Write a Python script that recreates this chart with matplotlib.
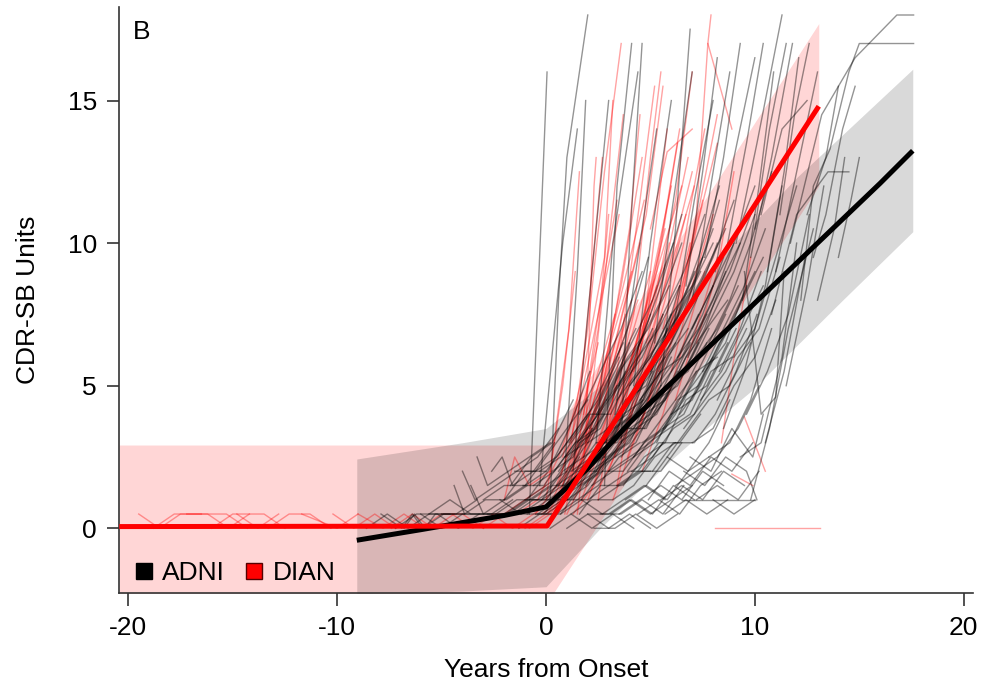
import numpy as np
import matplotlib.pyplot as plt
from matplotlib.lines import Line2D

plt.rcParams['font.family'] = ['Liberation Sans', 'DejaVu Sans']
plt.rcParams['font.size'] = 19
plt.rcParams['axes.unicode_minus'] = False

# fitted curves
adni_fit_x = [-9.06, -6.0, -4.0, -2.0, 0.0, 2.0, 4.0, 6.0, 8.0, 10.0, 12.0, 14.0, 16.0, 17.56]
adni_fit_y = [-0.42, -0.05, 0.2, 0.45, 0.75, 2.1, 3.7, 5.1, 6.5, 7.9, 9.3, 10.7, 12.1, 13.24]
dian_fit_x = [-20.43, 0.05, 13.06]
dian_fit_y = [0.06, 0.08, 14.8]

# confidence bands
adni_band_x = [-9.06, -4.0, 0.0, 2.6, 4.0, 6.0, 8.0, 9.8, 12.0, 14.2, 17.56]
adni_band_hi = [2.43, 3.0, 3.5, 5.0, 6.1, 7.6, 9.2, 10.6, 12.3, 13.8, 16.1]
adni_band_lo = [-2.3, -2.2, -2.05, 0.0, 1.0, 2.4, 3.7, 4.8, 6.4, 8.0, 10.4]
dian_band_x = [-20.43, 0.0, 0.35, 13.06]
dian_band_hi = [2.92, 2.92, 3.3, 17.7]
dian_band_lo = [-2.6, -2.6, -2.28, 12.0]

# individual trajectories, "years:score" pairs
adni_subjects = [
    "-8.6:0 -7.6:0.5 -6.6:0 -5.6:0.5 -4.6:0.5",
    "-7.9:0.5 -6.9:0 -6.4:0.5 -5.9:0 -4.9:0.5 -3.9:0.5",
    "-7.2:0 -6.2:0.5 -5.2:0.5 -4.2:0 -3.2:0.5",
    "-6.8:0 -6.3:0.5 -5.8:0 -5.3:0.5 -4.3:0.5 -3.3:1.0",
    "-6.0:0.5 -5.0:0 -4.0:0.5 -3.0:0.5 -2.0:0.5",
    "-5.6:0.5 -4.6:1.0 -3.6:0.5 -2.6:0.5 -1.6:1.0",
    "-5.0:0.5 -4.0:0.5 -3.0:0.5 -2.0:1.0 -1.0:1.5 0.0:2.0",
    "-4.4:1.5 -3.9:0.5 -2.9:1.0 -1.9:1.0 -0.9:1.5",
    "-4.0:2.0 -3.4:1.0 -2.4:1.5 -1.4:2.0 -0.4:2.5 0.6:3.5",
    "-3.6:1.5 -3.0:0.5 -2.0:0.5 -1.0:1.0 0.0:1.0 1.0:2.0",
    "-3.3:2.5 -2.8:1.5 -1.8:2.0 -0.8:2.5 0.2:3.0",
    "-3.0:1.0 -2.0:1.5 -1.0:1.5 0.0:2.5 1.0:3.5 2.0:4.5",
    "-2.8:0.5 -1.8:0.5 -0.8:1.0 0.2:1.5 1.2:2.5 2.2:3.5",
    "-2.6:2.0 -2.1:2.5 -1.6:1.5 -0.6:2.0 0.4:3.0",
    "-2.4:0.5 -1.4:1.0 -0.4:1.0 0.6:1.5 1.6:2.5",
    "-2.2:1.0 -1.2:0.5 -0.2:1.0 0.8:1.5 1.8:3.0 2.8:4.0",
    "-2.0:1.0 -1.0:2.0 0.0:2.0 1.0:3.0 2.0:4.0",
    "-1.9:0.5 -0.9:1.0 0.1:2.0 1.1:3.5 2.1:5.5",
    "-1.7:1.5 -0.7:2.5 0.3:3.0 1.3:4.5",
    "-1.6:0.5 -0.6:1.0 0.4:1.0 1.4:2.0 2.4:2.5 3.4:4.0",
    "-1.5:2.0 -0.5:2.0 0.5:2.5 1.5:3.5 2.5:4.5 3.5:6.0",
    "-1.3:0 -0.3:0.5 0.7:0.5 1.7:1.5 2.7:2.0",
    "-1.2:0.5 -0.2:0.5 0.8:1.0 1.8:2.0 2.8:2.5",
    "-1.1:1.5 -0.1:1.5 0.9:2.5 1.9:3.0 2.9:4.5",
    "-1.0:1.0 0.0:1.5 1.0:2.0 2.0:3.0 3.0:4.5 4.0:6.5",
    "-0.9:0.5 0.1:1.0 1.1:1.0 2.1:2.0 3.1:2.5 4.1:3.5",
    "-0.8:0.5 0.05:16.0",
    "-0.7:1.0 0.3:1.5 1.3:1.5 2.3:2.5 3.3:3.5 4.3:5.0",
    "-0.6:1.5 0.4:2.0 1.4:3.0 2.4:3.5 3.4:5.0",
    "-0.5:0.5 0.5:0.5 1.5:1.0 2.5:1.5 3.5:2.5 4.5:3.0",
    "-0.4:0.5 0.6:1.0 1.6:1.5 2.6:2.0 3.6:3.0 4.6:4.5",
    "-0.3:2.0 0.7:2.5 1.7:3.5 2.7:5.0 3.7:6.5",
    "-0.2:1.0 0.8:2.0 1.8:2.5 2.8:4.0 3.8:5.5",
    "-0.1:0.5 0.9:1.5 1.9:2.0 2.9:3.5 3.9:4.0 4.9:5.5",
    "0.0:0.5 1.0:1.0 2.0:1.0 3.0:1.5 4.0:2.0 5.0:2.0",
    "0.1:1.0 1.1:1.5 2.1:2.5 3.1:3.0 4.1:4.5 5.1:5.5",
    "0.2:1.0 0.6:8.0 1.0:13.0 2.0:18.0",
    "0.2:0 1.2:0.5 2.2:0 3.2:0.5 4.2:0",
    "0.3:2.0 1.3:2.5 2.3:4.0 3.3:5.5 4.3:7.0",
    "0.4:0.5 1.4:1.5 2.4:2.0 3.4:3.5 4.4:5.0",
    "0.5:1.5 1.5:2.0 2.5:2.0 3.5:3.0 4.5:3.5 5.5:5.0",
    "0.6:2.0 1.6:3.0 2.6:3.5 3.6:5.0 4.6:6.0 5.6:7.5",
    "0.7:0.5 1.7:1.0 2.7:0.5 3.7:1.0 4.7:1.5 5.7:1.0",
    "0.8:1.5 1.8:2.0 2.8:3.0 3.8:3.5 4.8:4.5 5.8:6.0 6.8:7.0",
    "0.9:2.5 1.9:3.5 2.9:5.0 3.9:7.0 4.9:9.5",
    "0.9:2.0 1.5:9.0 1.9:15.0",
    "1.0:1.0 2.0:1.5 3.0:2.5 4.0:3.0 5.0:4.5 6.0:6.0",
    "1.0:2.5 2.0:3.5 3.0:4.5 4.0:5.5 5.0:7.5",
    "1.0:0 2.0:0.5 3.0:0 4.0:0.5 5.0:0",
    "1.1:3.0 2.1:4.0 3.1:4.0 4.1:5.5 5.1:7.0",
    "1.2:0.5 2.2:1.0 3.2:1.0 4.2:1.5 5.2:2.5 6.2:3.0",
    "1.2:2.0 2.2:2.5 3.2:3.5 4.2:4.0 5.2:5.5 6.2:6.5",
    "1.3:1.0 2.3:2.0 3.3:2.5 4.3:3.5 5.3:4.0 6.3:5.5",
    "1.4:2.0 2.4:3.0 3.4:3.0 4.4:4.0 5.4:6.0 6.4:8.5",
    "1.5:1.5 2.5:2.5 3.5:3.5 4.5:4.5 5.5:5.5",
    "1.5:3.0 2.5:4.0 3.5:5.5 4.5:6.5 5.5:8.0 6.5:10.0",
    "1.6:4.0 2.6:5.5 3.6:7.0 4.6:9.0",
    "1.6:0.5 2.6:1.5 3.6:1.5 4.6:2.0 5.6:3.0",
    "1.7:1.0 2.7:2.0 3.7:2.0 4.7:3.0 5.7:3.5 6.7:5.0 7.7:6.5",
    "1.7:2.0 2.7:2.5 3.7:4.0 4.7:4.5 5.7:6.0",
    "1.8:2.5 2.8:3.0 3.8:4.5 4.8:5.0 5.8:7.0",
    "1.9:1.5 2.9:2.5 3.9:3.0 4.9:4.0 5.9:5.0 6.9:6.5",
    "2.0:0.5 3.0:0.5 4.0:1.0 5.0:0.5 6.0:1.0 7.0:1.5",
    "2.0:3.0 3.0:3.5 4.0:5.0 5.0:6.0 6.0:7.5",
    "2.1:3.5 3.1:5.0 4.1:6.5 5.1:8.0 6.1:10.0",
    "2.1:2.5 3.1:3.0 4.1:4.0 5.1:6.0 6.1:7.0 7.1:9.0",
    "2.2:1.5 3.2:2.0 4.2:2.5 5.2:3.5 6.2:4.5 7.2:5.5",
    "2.3:2.0 3.3:3.5 4.3:4.0 5.3:5.0 6.3:6.0 7.3:7.5",
    "2.3:0 3.3:0 4.3:0.5 5.3:0 6.3:0.5",
    "2.4:4.0 3.4:5.0 4.4:6.0 5.4:7.0 6.4:8.5",
    "2.5:1.0 3.5:1.5 4.5:2.0 5.5:2.0 6.5:3.0",
    "2.6:3.0 3.6:4.0 4.6:5.5 5.6:7.5 6.6:9.0 7.6:11.0",
    "2.6:0.5 3.6:0.5 4.6:1.0 5.6:0.5 6.6:1.5",
    "2.7:2.0 3.7:3.0 4.7:4.0 5.7:4.5 6.7:6.0 7.7:7.5",
    "2.8:1.5 3.4:12.0 4.1:17.0",
    "2.8:2.5 3.8:3.5 4.8:3.5 5.8:5.0 6.8:5.5 7.8:7.0",
    "2.9:4.5 3.9:6.0 4.9:7.0 5.9:8.5",
    "3.0:2.0 4.0:2.5 5.0:3.0 6.0:4.0 7.0:4.5 8.0:6.0",
    "3.0:3.5 4.0:4.5 5.0:5.5 6.0:7.0 7.0:8.5 8.0:10.5",
    "3.1:0.5 4.1:1.0 5.1:0.5 6.1:1.5 7.1:1.0",
    "3.2:3.0 4.2:3.5 5.2:5.0 6.2:6.5 7.2:8.0 8.2:10.0",
    "3.3:2.5 4.3:3.0 5.3:4.5 6.3:5.0 7.3:6.5",
    "3.4:1.5 4.4:2.0 5.4:3.0 6.4:3.0 7.4:4.0",
    "3.4:4.5 4.4:5.5 5.4:6.5 6.4:7.5 7.4:9.0",
    "3.5:5.0 4.5:6.5 5.5:8.5 6.5:11.0",
    "3.5:4.0 4.5:5.0 5.5:6.5 6.5:8.0 7.5:9.5",
    "3.5:0.5 4.5:1.0 5.5:1.5 6.5:1.0 7.5:2.0 8.5:1.5",
    "3.6:2.5 4.6:3.5 5.6:4.5 6.6:5.5 7.6:7.0 8.6:9.0",
    "3.6:3.0 4.0:10.0 4.6:17.0",
    "3.7:1.5 4.7:2.5 5.7:3.0 6.7:4.5 7.7:5.0 8.7:6.5",
    "3.8:1.0 4.8:1.5 5.8:1.0 6.8:2.0 7.8:2.5",
    "3.9:2.0 4.9:3.0 5.9:3.5 6.9:4.0 7.9:5.5 8.9:6.0",
    "4.0:3.5 5.0:4.0 6.0:5.5 7.0:7.0 8.0:8.5",
    "4.0:5.0 5.0:6.0 6.0:7.5 7.0:8.5 8.0:10.0",
    "4.1:2.0 5.1:2.5 6.1:3.5 7.1:4.0 8.1:5.5 9.1:7.0",
    "4.2:2.5 5.2:3.0 6.2:4.0 7.2:5.5 8.2:6.0",
    "4.3:4.0 5.3:5.5 6.3:7.0 7.3:9.0 8.3:11.5",
    "4.4:0.5 5.4:1.0 6.4:0.5 7.4:1.5 8.4:2.0",
    "4.5:4.5 5.5:5.5 6.5:6.0 7.5:7.5 8.5:9.5",
    "4.6:3.0 5.6:3.5 6.6:4.5 7.6:6.0 8.6:7.5",
    "4.7:3.5 5.7:4.5 6.7:6.0 7.7:7.0 8.7:8.0",
    "4.8:1.5 5.8:2.5 6.8:2.0 7.8:3.0 8.8:4.5",
    "4.9:1.0 5.9:2.0 6.9:1.5 7.9:2.5 8.9:2.0 9.9:3.0",
    "5.0:4.5 6.0:5.5 7.0:6.5 8.0:8.0 9.0:10.0",
    "5.0:5.5 6.0:6.5 7.0:8.0 8.0:9.5 9.0:11.5",
    "5.1:2.0 6.1:3.0 7.1:3.0 8.1:4.0 9.1:5.5 10.1:7.5",
    "5.2:4.0 6.2:5.0 7.2:6.0 8.2:7.0 9.2:8.5",
    "5.3:6.0 6.3:7.5 7.3:9.5 8.3:12.0",
    "5.3:3.0 6.3:4.5 7.3:5.0 8.3:6.5 9.3:7.5",
    "5.5:1.0 6.5:1.5 7.5:1.0 8.5:2.0 9.5:1.5",
    "5.5:5.0 6.2:10.5 6.9:17.5",
    "5.6:3.5 6.6:4.0 7.6:5.5 8.6:6.5 9.6:8.5",
    "5.6:6.5 6.6:7.5 7.6:9.0 8.6:10.5",
    "5.7:0.5 6.7:1.0 7.7:0.5 8.7:1.0",
    "5.8:2.5 6.8:3.5 7.8:4.5 8.8:5.0 9.8:6.5",
    "6.0:5.0 7.0:6.0 8.0:7.5 9.0:9.0 10.0:11.0",
    "6.0:4.0 7.0:5.0 8.0:6.0 9.0:7.5 10.0:9.0",
    "6.2:1.5 7.2:2.0 8.2:2.5 9.2:3.5 10.2:5.0",
    "6.3:6.0 7.3:7.0 8.3:8.5 9.3:10.0",
    "6.4:4.0 7.4:5.0 8.4:6.5 9.4:8.0 10.4:9.5",
    "6.5:1.0 7.5:1.0 8.5:1.0 9.5:1.0 10.0:1.0",
    "6.6:2.0 7.6:1.5 8.6:2.5 9.6:2.0 10.1:1.0",
    "6.6:3.5 7.6:4.5 8.6:5.5 9.6:7.0",
    "6.7:8.5 7.5:12.5 8.2:16.5",
    "6.8:6.0 7.8:7.5 8.8:9.0 9.8:11.0",
    "6.9:2.5 7.9:2.0 8.9:3.5 9.9:2.5 10.4:4.0",
    "7.0:3.0 8.0:3.5 9.0:5.0 10.0:6.0 11.0:8.0",
    "7.0:7.0 8.0:8.5 9.0:10.0 10.0:12.0",
    "7.2:1.0 8.2:1.5 9.2:1.0 10.2:2.0",
    "7.4:4.5 8.4:5.5 9.4:7.0 10.4:8.5",
    "7.5:5.5 8.5:7.0 9.5:8.5 10.5:10.5",
    "7.6:9.5 8.5:13.0 9.3:17.0",
    "7.8:2.5 8.8:3.0 9.8:4.5 10.8:7.0",
    "7.8:6.5 8.8:8.0 9.8:10.0 10.8:12.5",
    "8.0:1.0 9.0:0.5 10.0:1.0",
    "8.2:4.5 9.2:6.0 10.2:7.0 11.2:9.5",
    "8.3:5.5 9.3:7.0 10.3:9.0",
    "8.5:3.5 9.5:5.5 10.5:8.5 11.3:12.0",
    "8.7:10.0 9.6:13.5 10.4:17.0",
    "9.0:6.0 10.0:7.0 11.0:9.5 12.0:12.0",
    "9.3:2.5 10.3:3.0 11.3:6.0 12.0:10.0",
    "9.4:8.0 10.2:12.0 10.9:16.0",
    "9.5:9.0 10.0:6.0 10.3:4.0 11.0:4.6 11.4:9.0",
    "9.6:4.0 10.6:5.5 11.6:7.5 12.6:11.0",
    "10.0:10.5 10.7:14.0 11.5:17.0",
    "10.6:9.0 11.4:12.5 12.1:16.5",
    "11.2:11.0 11.9:14.5 12.6:17.0",
    "-0.3:1.5 0.8:10.0 1.5:14.0",
    "1.3:2.0 2.2:9.0 3.0:15.0",
    "2.4:3.0 3.2:10.0 4.4:16.0",
    "3.3:4.0 4.3:9.0 5.3:14.0",
    "4.2:5.0 5.0:10.0 6.0:15.0",
    "5.2:6.5 6.0:11.0 7.0:16.0",
    "6.1:7.0 7.1:11.5 8.0:15.0",
    "7.0:8.0 8.0:12.5 8.8:16.0",
    "8.1:9.0 9.0:13.0 10.0:16.5",
    "9.1:10.0 10.1:13.5 11.3:18.0",
    "9.8:9.5 10.8:13.0 11.8:17.0",
    "10.3:11.0 11.3:14.0 12.5:15.0",
    "11.0:9.0 12.0:12.5 13.0:16.0",
    "12.2:8.0 12.8:12.0 13.6:13.3 14.5:16.0 15.0:17.0 17.6:17.0",
    "11.7:10.0 13.2:14.5 14.8:16.5 16.8:18.0 17.6:18.0",
    "12.5:11.0 13.4:13.0 14.0:15.5",
    "12.8:9.5 13.4:11.0 14.2:14.0 14.8:15.5",
    "10.8:7.5 12.0:11.0 13.5:12.5 14.5:12.5",
    "11.5:5.0 12.5:8.5 13.3:12.0",
    "10.5:3.0 11.4:5.5 12.4:9.5",
    "9.8:1.0 10.7:3.5 11.6:7.0 12.8:10.5",
    "13.0:8.0 13.8:10.5 14.3:13.0",
    "14.0:9.5 14.6:11.5 15.0:13.0",
]

dian_subjects = [
    "-19.5:0.5 -18.5:0 -17.5:0.5 -16.5:0.5",
    "-18.8:0 -17.8:0.5 -16.8:0.5 -15.3:0.5 -14.3:0",
    "-17.2:0.5 -16.2:0.5 -15.2:0 -14.2:0.5",
    "-16.0:0 -15.0:0.5 -13.5:0.5 -12.5:0",
    "-14.8:0.5 -13.8:0 -12.8:0.5",
    "-13.3:0 -12.3:0.5 -11.3:0.5 -10.3:0",
    "-11.7:0.5 -10.0:0 -9.0:0.5",
    "-10.2:0.5 -9.2:0 -8.2:0.5 -7.2:0",
    "-9.0:0.5 -7.8:0 -6.8:0.5 -5.8:0",
    "-7.4:0 -6.4:0.5 -5.4:0 -4.4:0.5",
    "-6.0:0 -5.0:0.5 -4.0:0.5 -3.0:0",
    "-4.5:0.5 -3.5:0 -2.5:0.5 -1.5:0.5",
    "-3.0:0 -2.0:0.5 -1.0:1.0 0.0:1.5",
    "-2.6:0.5 -1.6:0 -0.6:0.5 0.4:1.0",
    "-2.0:1.0 -1.5:2.5 -0.8:1.5 0.2:2.0",
    "-1.4:0.5 -0.4:1.0 0.6:2.5 1.6:4.5",
    "-1.0:0 0.0:0.5 1.0:1.0 2.0:3.0 3.0:6.0",
    "-0.8:0 0.2:0.5 1.2:1.5 2.2:3.5",
    "-0.5:0.5 0.5:1.5 1.5:3.5 2.5:6.5",
    "-0.2:0.5 0.8:1.0 1.8:2.5 2.8:4.5 3.8:7.5",
    "0.0:1.0 0.8:5.0 1.4:9.0",
    "0.1:0.5 1.1:2.0 2.1:4.0 3.1:6.5 4.1:9.0",
    "0.2:2.0 1.1:7.0 1.6:12.5",
    "0.3:1.0 1.3:2.5 2.3:5.0 3.3:7.5",
    "0.4:0.5 1.4:3.0 2.2:9.0 2.7:13.0",
    "0.5:0.5 1.5:2.5 2.5:4.5 3.5:7.0 4.5:10.0",
    "0.6:1.5 1.5:4.0 2.5:7.5 3.5:11.0",
    "0.7:1.0 1.7:3.0 2.7:5.5 3.7:8.5 4.7:11.5",
    "0.8:2.5 1.8:5.5 2.8:9.5 3.2:15.0",
    "0.9:0.5 1.8:4.0 2.5:7.0 3.0:11.0",
    "1.0:0.5 2.0:2.0 3.0:4.0 4.0:6.5 5.0:9.0",
    "1.1:1.5 2.1:3.5 3.1:5.5 4.1:8.0",
    "1.2:3.0 2.0:7.0 2.8:12.5 3.6:17.0",
    "1.3:0.5 2.3:1.5 3.3:3.5 4.3:6.0 5.3:8.5",
    "1.4:1.5 2.4:3.5 3.4:6.0 4.4:8.0",
    "1.5:0.5 2.3:5.5 3.0:10.0 3.7:14.5",
    "1.6:2.0 2.6:5.0 3.6:8.5 4.6:13.0",
    "1.7:1.0 2.7:3.0 3.7:5.0 4.7:7.5 5.7:10.5",
    "1.8:4.0 2.6:8.0 3.4:11.5",
    "1.9:3.0 2.3:12.0 2.4:13.0",
    "2.0:1.0 3.0:3.0 4.0:5.5 5.0:8.5 6.0:12.0",
    "2.1:2.0 3.1:4.0 4.1:6.0 5.1:8.0",
    "2.2:2.5 3.2:4.5 4.2:7.5 5.0:13.0 5.5:16.0",
    "2.4:3.5 3.2:7.0 4.0:10.5 4.5:14.5",
    "2.5:1.0 3.5:6.0 4.5:11.5 5.2:15.5",
    "2.5:2.5 3.5:4.5 4.5:7.0 5.5:9.5 6.5:12.0",
    "2.6:1.5 3.6:3.0 4.6:5.0 5.6:7.5",
    "2.8:5.0 3.8:8.0 4.8:11.0 5.6:15.5",
    "2.9:3.0 3.9:5.0 4.9:7.5 5.9:10.0",
    "3.0:2.0 4.0:4.0 5.0:6.5 6.0:9.5 7.0:12.5",
    "3.2:1.0 4.2:3.0 5.2:5.0 6.2:7.0",
    "3.3:3.0 4.3:6.0 5.3:9.0 6.3:13.5",
    "3.4:1.5 4.4:5.5 5.0:9.0 5.8:14.0",
    "3.6:4.0 4.6:6.5 5.6:10.5 6.4:14.0",
    "3.7:3.0 4.7:5.5 5.7:8.0 6.7:11.0",
    "3.9:2.5 4.9:4.5 5.9:7.0 6.9:10.0",
    "4.1:4.5 5.1:7.0 6.1:9.5 7.1:12.0",
    "4.2:5.5 5.2:8.0 6.2:11.5 7.0:16.0",
    "4.5:3.5 5.5:6.0 6.5:8.5 7.5:11.5",
    "4.6:2.0 5.6:4.0 6.6:6.5 7.6:9.0",
    "4.8:6.5 5.8:9.5 6.8:13.0",
    "5.0:10.5 5.8:13.2 7.0:14.0",
    "5.2:4.5 6.2:7.0 7.2:10.5 8.2:13.5",
    "5.4:5.5 6.4:8.0 7.4:11.5 8.2:14.5",
    "5.6:7.0 6.6:10.0 7.6:14.0",
    "6.0:5.5 7.0:8.5 8.0:11.0",
    "6.2:4.5 7.2:7.0 8.2:9.5",
    "6.5:8.0 7.2:11.0 7.75:17.0 7.9:18.0",
    "7.75:17.0 8.9:14.0",
    "7.2:6.5 8.2:9.0 9.0:12.5",
    "8.1:0 13.1:0",
    "8.9:1.9 9.9:1.5",
    "9.5:3.9 10.5:2.0",
    "8.4:3.0 9.0:6.0 9.8:9.5",
]


def parse(s):
    pts = [p.split(':') for p in s.split()]
    return [float(a) for a, b in pts], [float(b) for a, b in pts]


fig = plt.figure(figsize=(9.82, 6.89), dpi=100)
ax = fig.add_axes([119.3 / 982, 1 - 593.3 / 689, 853.4 / 982, 586.0 / 689])

ax.fill_between(dian_band_x, dian_band_lo, dian_band_hi, color='red', alpha=0.16, lw=0, zorder=1)
ax.fill_between(adni_band_x, adni_band_lo, adni_band_hi, color='black', alpha=0.15, lw=0, zorder=1)

# DIAN first so the ADNI lines darken the shared core
for s in dian_subjects:
    x, y = parse(s)
    ax.plot(x, y, color='red', alpha=0.36, lw=1.0, zorder=2)
for s in adni_subjects:
    x, y = parse(s)
    ax.plot(x, y, color='black', alpha=0.42, lw=1.0, zorder=2)

ax.plot(adni_fit_x, adni_fit_y, color='black', lw=3.6, zorder=4, solid_capstyle='butt')
ax.plot(dian_fit_x, dian_fit_y, color='red', lw=3.6, zorder=4, solid_capstyle='butt')

ax.set_xlim(-20.43, 20.43)
ax.set_ylim(-2.28, 18.27)
ax.set_xticks([-20, -10, 0, 10, 20])
ax.set_yticks([0, 5, 10, 15])
ax.spines['top'].set_visible(False)
ax.spines['right'].set_visible(False)
for sp in ['left', 'bottom']:
    ax.spines[sp].set_linewidth(1.2)
    ax.spines[sp].set_color('#333333')
ax.tick_params(direction='out', length=9, width=1.2, color='#333333', pad=7)

ax.set_xlabel('Years from Onset', labelpad=13)
ax.set_ylabel('CDR-SB Units', labelpad=20)
ax.text(0.016, 0.978, 'B', transform=ax.transAxes, ha='left', va='top')

handles = [
    Line2D([], [], ls='none', marker='s', markersize=12, markerfacecolor='black', markeredgecolor='black'),
    Line2D([], [], ls='none', marker='s', markersize=12, markerfacecolor='red', markeredgecolor='#550000'),
]
ax.legend(handles, ['ADNI', 'DIAN'], loc='lower left', ncol=2, frameon=False,
          handlelength=0.8, handletextpad=0.3, columnspacing=0.7,
          bbox_to_anchor=(0.004, -0.004), borderaxespad=0.0)

fig.savefig('out.png', dpi=100)
